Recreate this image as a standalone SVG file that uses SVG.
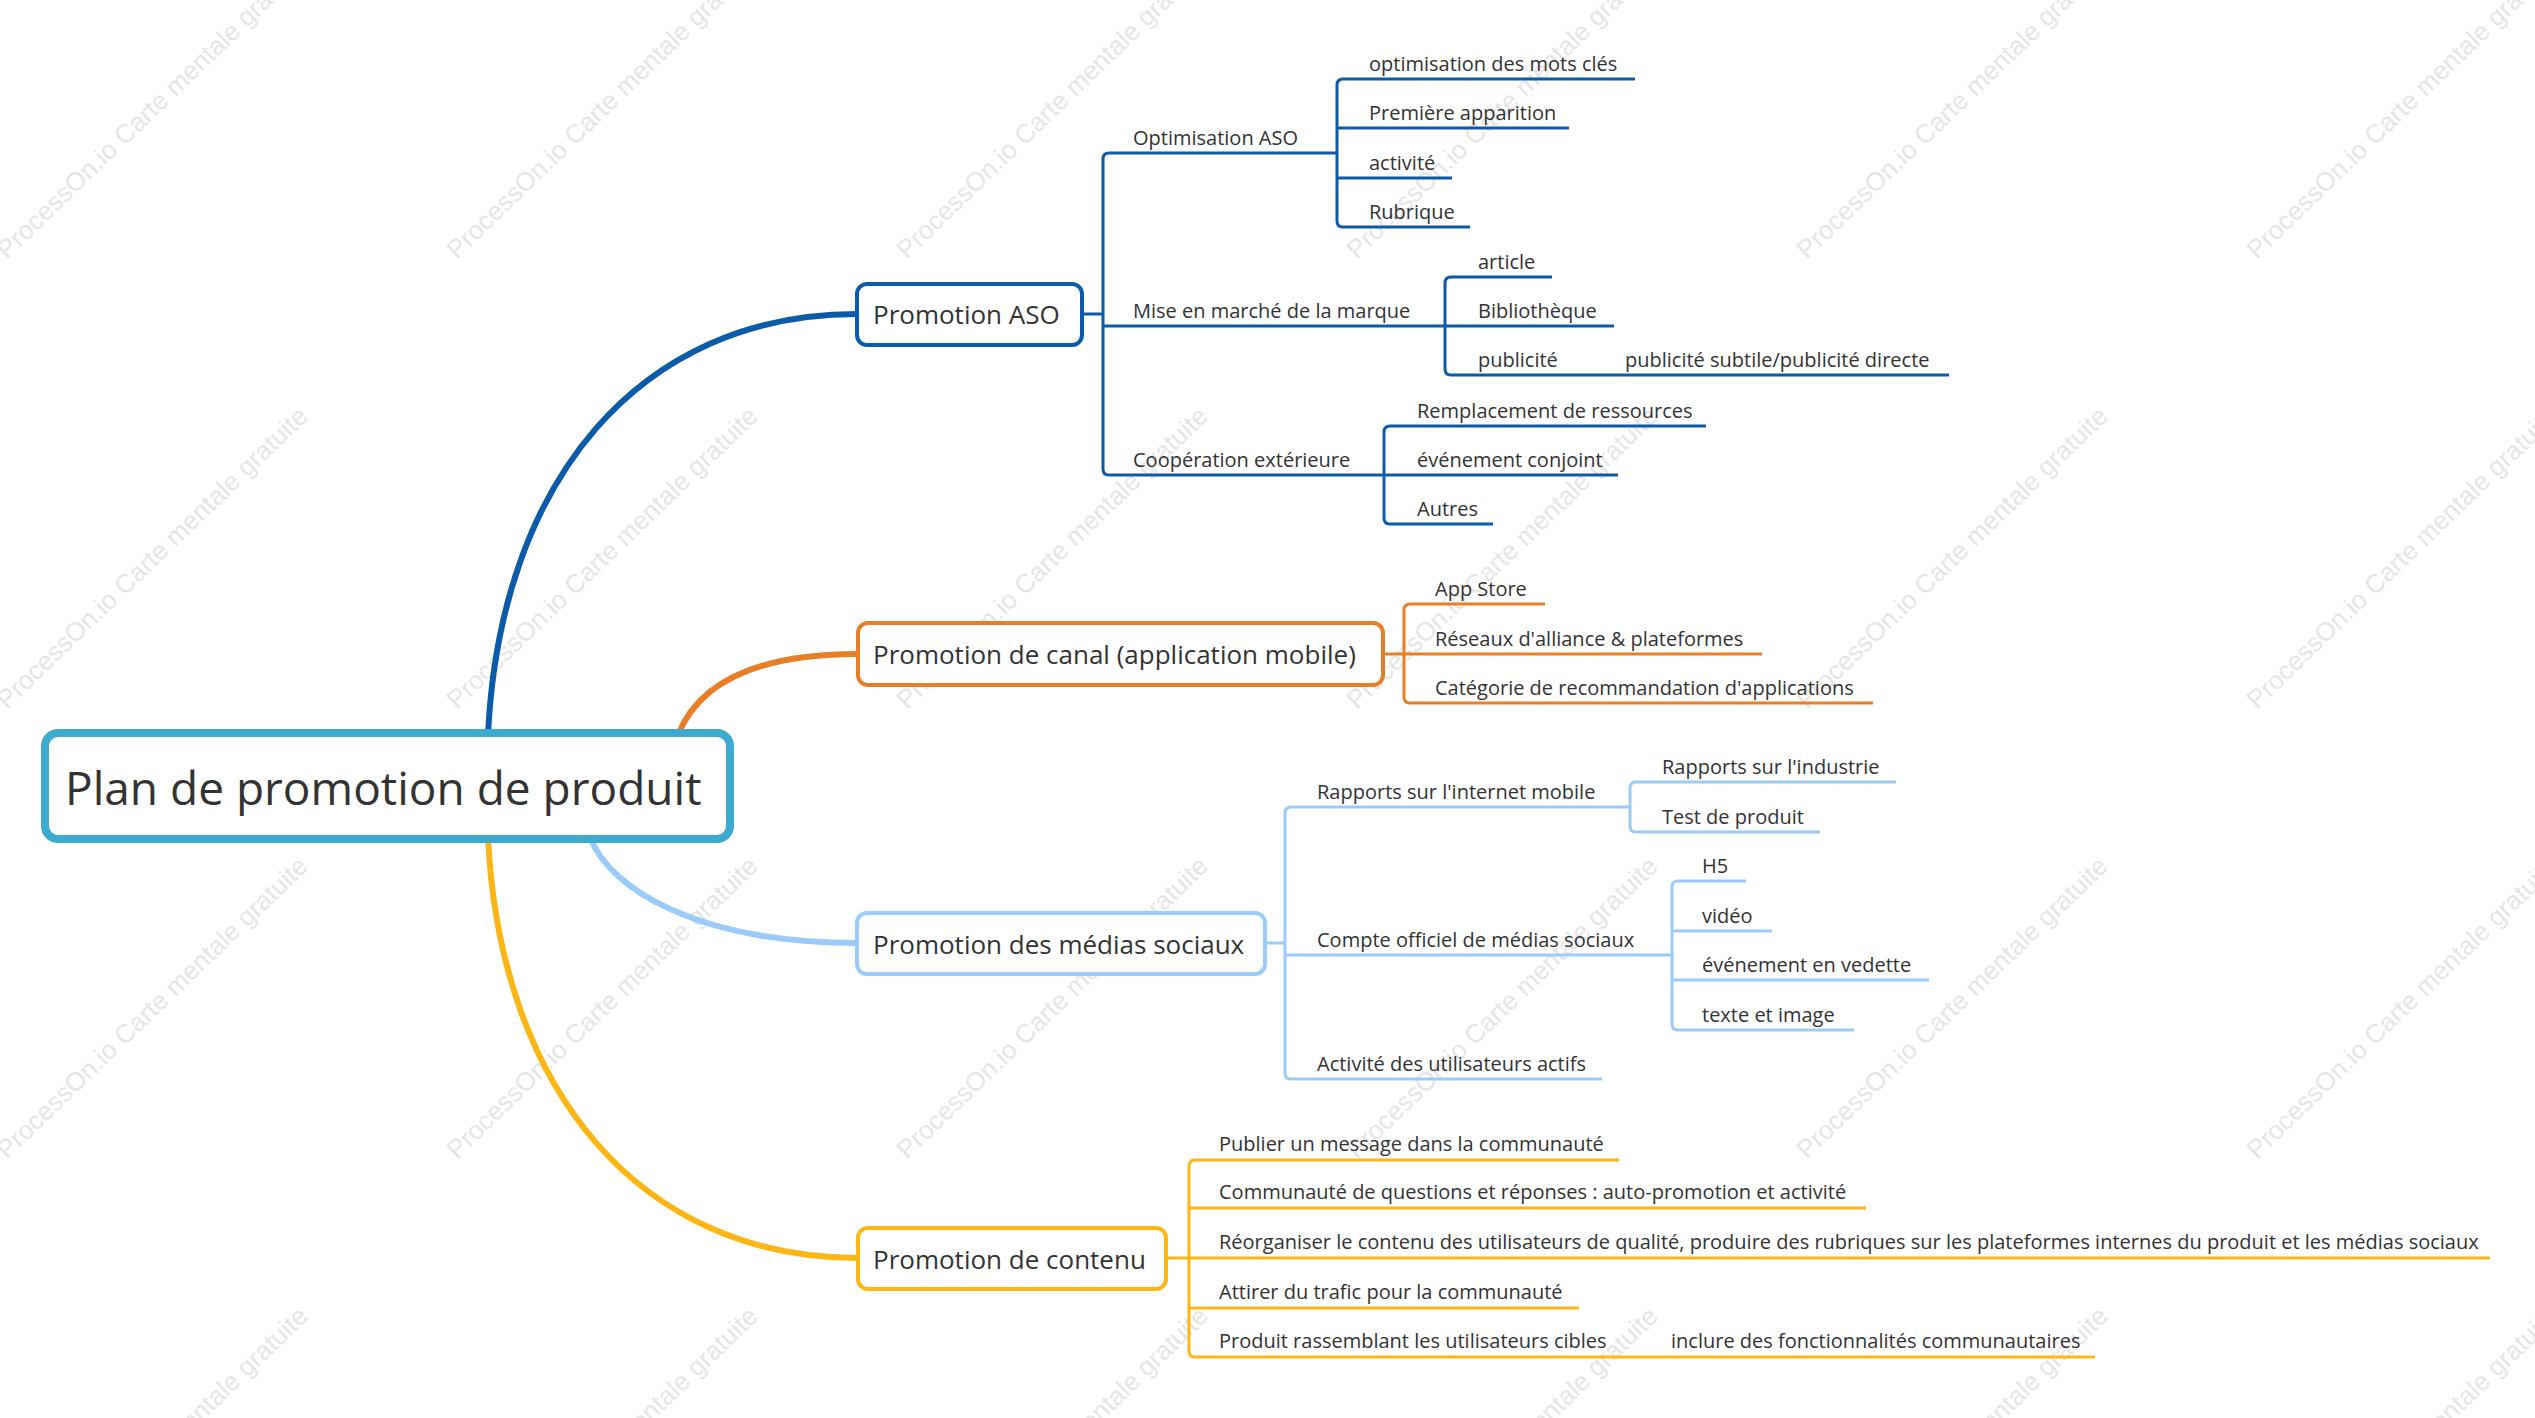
<svg xmlns="http://www.w3.org/2000/svg" width="2535" height="1418" viewBox="0 0 2535 1418">
<style>
.t{font-family:"Open Sans","Liberation Sans",sans-serif;fill:#333333}
.s2{font-size:20px}
.s1{font-size:26px}
.s0{font-size:46px}
.wm{font-family:"Liberation Sans",Arial,sans-serif;font-size:26px;fill:#e6e6e6}
.ln{fill:none;stroke-width:3}
.cv{fill:none;stroke-width:6}
.box{fill:#ffffff;stroke-width:4}
.c1{stroke:#0B5BAA}
.c2{stroke:#E87E26}
.c3{stroke:#9BCBFB}
.c4{stroke:#FDB614}
</style>
<rect width="2535" height="1418" fill="#ffffff"/>
<g id="watermark">
<text class="wm" x="7" y="260" transform="rotate(-44 7 260)">ProcessOn.io Carte mentale gratuite</text>
<text class="wm" x="457" y="260" transform="rotate(-44 457 260)">ProcessOn.io Carte mentale gratuite</text>
<text class="wm" x="907" y="260" transform="rotate(-44 907 260)">ProcessOn.io Carte mentale gratuite</text>
<text class="wm" x="1357" y="260" transform="rotate(-44 1357 260)">ProcessOn.io Carte mentale gratuite</text>
<text class="wm" x="1807" y="260" transform="rotate(-44 1807 260)">ProcessOn.io Carte mentale gratuite</text>
<text class="wm" x="2257" y="260" transform="rotate(-44 2257 260)">ProcessOn.io Carte mentale gratuite</text>
<text class="wm" x="7" y="710" transform="rotate(-44 7 710)">ProcessOn.io Carte mentale gratuite</text>
<text class="wm" x="457" y="710" transform="rotate(-44 457 710)">ProcessOn.io Carte mentale gratuite</text>
<text class="wm" x="907" y="710" transform="rotate(-44 907 710)">ProcessOn.io Carte mentale gratuite</text>
<text class="wm" x="1357" y="710" transform="rotate(-44 1357 710)">ProcessOn.io Carte mentale gratuite</text>
<text class="wm" x="1807" y="710" transform="rotate(-44 1807 710)">ProcessOn.io Carte mentale gratuite</text>
<text class="wm" x="2257" y="710" transform="rotate(-44 2257 710)">ProcessOn.io Carte mentale gratuite</text>
<text class="wm" x="7" y="1160" transform="rotate(-44 7 1160)">ProcessOn.io Carte mentale gratuite</text>
<text class="wm" x="457" y="1160" transform="rotate(-44 457 1160)">ProcessOn.io Carte mentale gratuite</text>
<text class="wm" x="907" y="1160" transform="rotate(-44 907 1160)">ProcessOn.io Carte mentale gratuite</text>
<text class="wm" x="1357" y="1160" transform="rotate(-44 1357 1160)">ProcessOn.io Carte mentale gratuite</text>
<text class="wm" x="1807" y="1160" transform="rotate(-44 1807 1160)">ProcessOn.io Carte mentale gratuite</text>
<text class="wm" x="2257" y="1160" transform="rotate(-44 2257 1160)">ProcessOn.io Carte mentale gratuite</text>
<text class="wm" x="7" y="1610" transform="rotate(-44 7 1610)">ProcessOn.io Carte mentale gratuite</text>
<text class="wm" x="457" y="1610" transform="rotate(-44 457 1610)">ProcessOn.io Carte mentale gratuite</text>
<text class="wm" x="907" y="1610" transform="rotate(-44 907 1610)">ProcessOn.io Carte mentale gratuite</text>
<text class="wm" x="1357" y="1610" transform="rotate(-44 1357 1610)">ProcessOn.io Carte mentale gratuite</text>
<text class="wm" x="1807" y="1610" transform="rotate(-44 1807 1610)">ProcessOn.io Carte mentale gratuite</text>
<text class="wm" x="2257" y="1610" transform="rotate(-44 2257 1610)">ProcessOn.io Carte mentale gratuite</text>
</g>
<g id="connectors">
<path class="cv c1" d="M488,735 C500,480 640,314 857,314"/>
<path class="cv c2" d="M678,735 C700,680 760,654 858,654"/>
<path class="cv c3" d="M590,837 C610,890 700,943 857,943"/>
<path class="cv c4" d="M488,837 C500,1090 640,1258 858,1258"/>
<path class="ln c1" d="M1082,314 L1103,314"/>
<path class="ln c1" d="M1109,153 Q1103,153 1103,159 L1103,469 Q1103,475 1109,475"/>
<path class="ln c1" d="M1343,79 Q1337,79 1337,85 L1337,221 Q1337,227 1343,227"/>
<path class="ln c1" d="M1451,277 Q1445,277 1445,283 L1445,369 Q1445,375 1451,375"/>
<path class="ln c1" d="M1390,426 Q1384,426 1384,432 L1384,518 Q1384,524 1390,524"/>
<path class="ln c2" d="M1383,654 L1404,654"/>
<path class="ln c2" d="M1410,604 Q1404,604 1404,610 L1404,697 Q1404,703 1410,703"/>
<path class="ln c3" d="M1265,943 L1285,943"/>
<path class="ln c3" d="M1291,807 Q1285,807 1285,813 L1285,1073 Q1285,1079 1291,1079"/>
<path class="ln c3" d="M1636,782 Q1630,782 1630,788 L1630,826 Q1630,832 1636,832"/>
<path class="ln c3" d="M1678,881 Q1672,881 1672,887 L1672,1024 Q1672,1030 1678,1030"/>
<path class="ln c4" d="M1166,1258 L1189,1258"/>
<path class="ln c4" d="M1195,1160 Q1189,1160 1189,1166 L1189,1351 Q1189,1357 1195,1357"/>
</g>
<g id="root">
<rect x="45" y="733" width="685" height="106" rx="13" fill="#ffffff" stroke="#3DAAD0" stroke-width="8"/>
<text class="t s0" x="65" y="805">Plan de promotion de produit</text>
</g>
<g id="n-aso">
<rect class="box c1" x="857" y="284" width="225" height="61" rx="10"/>
<text class="t s1" x="873" y="324">Promotion ASO</text>
</g>
<g id="n-aso-opt"><path class="ln c1" d="M1109,153 L1337,153"/><text class="t s2" x="1133" y="145">Optimisation ASO</text></g>
<g id="n-aso-opt-1"><path class="ln c1" d="M1343,79 L1635,79"/><text class="t s2" x="1369" y="71">optimisation des mots clés</text></g>
<g id="n-aso-opt-2"><path class="ln c1" d="M1337,128 L1569,128"/><text class="t s2" x="1369" y="120">Première apparition</text></g>
<g id="n-aso-opt-3"><path class="ln c1" d="M1337,178 L1452,178"/><text class="t s2" x="1369" y="170">activité</text></g>
<g id="n-aso-opt-4"><path class="ln c1" d="M1343,227 L1470,227"/><text class="t s2" x="1369" y="219">Rubrique</text></g>
<g id="n-aso-brand"><path class="ln c1" d="M1103,326 L1445,326"/><text class="t s2" x="1133" y="318">Mise en marché de la marque</text></g>
<g id="n-aso-brand-1"><path class="ln c1" d="M1451,277 L1552,277"/><text class="t s2" x="1478" y="269">article</text></g>
<g id="n-aso-brand-2"><path class="ln c1" d="M1445,326 L1614,326"/><text class="t s2" x="1478" y="318">Bibliothèque</text></g>
<g id="n-aso-brand-3"><path class="ln c1" d="M1451,375 L1575,375"/><text class="t s2" x="1478" y="367">publicité</text></g>
<g id="n-aso-brand-3-1"><path class="ln c1" d="M1575,375 L1949,375"/><text class="t s2" x="1625" y="367">publicité subtile/publicité directe</text></g>
<g id="n-aso-coop"><path class="ln c1" d="M1109,475 L1384,475"/><text class="t s2" x="1133" y="467">Coopération extérieure</text></g>
<g id="n-aso-coop-1"><path class="ln c1" d="M1390,426 L1706,426"/><text class="t s2" x="1417" y="418">Remplacement de ressources</text></g>
<g id="n-aso-coop-2"><path class="ln c1" d="M1384,475 L1618,475"/><text class="t s2" x="1417" y="467">événement conjoint</text></g>
<g id="n-aso-coop-3"><path class="ln c1" d="M1390,524 L1493,524"/><text class="t s2" x="1417" y="516">Autres</text></g>
<g id="n-canal">
<rect class="box c2" x="858" y="623" width="525" height="62" rx="10"/>
<text class="t s1" x="873" y="664">Promotion de canal (application mobile)</text>
</g>
<g id="n-canal-1"><path class="ln c2" d="M1410,604 L1545,604"/><text class="t s2" x="1435" y="596">App Store</text></g>
<g id="n-canal-2"><path class="ln c2" d="M1404,654 L1762,654"/><text class="t s2" x="1435" y="646">Réseaux d'alliance &amp; plateformes</text></g>
<g id="n-canal-3"><path class="ln c2" d="M1410,703 L1873,703"/><text class="t s2" x="1435" y="695">Catégorie de recommandation d'applications</text></g>
<g id="n-media">
<rect class="box c3" x="857" y="913" width="408" height="61" rx="10"/>
<text class="t s1" x="873" y="954">Promotion des médias sociaux</text>
</g>
<g id="n-media-1"><path class="ln c3" d="M1291,807 L1630,807"/><text class="t s2" x="1317" y="799">Rapports sur l'internet mobile</text></g>
<g id="n-media-1-1"><path class="ln c3" d="M1636,782 L1896,782"/><text class="t s2" x="1662" y="774">Rapports sur l'industrie</text></g>
<g id="n-media-1-2"><path class="ln c3" d="M1636,832 L1820,832"/><text class="t s2" x="1662" y="824">Test de produit</text></g>
<g id="n-media-2"><path class="ln c3" d="M1285,955 L1672,955"/><text class="t s2" x="1317" y="947">Compte officiel de médias sociaux</text></g>
<g id="n-media-2-1"><path class="ln c3" d="M1678,881 L1746,881"/><text class="t s2" x="1702" y="873">H5</text></g>
<g id="n-media-2-2"><path class="ln c3" d="M1672,931 L1772,931"/><text class="t s2" x="1702" y="923">vidéo</text></g>
<g id="n-media-2-3"><path class="ln c3" d="M1672,980 L1929,980"/><text class="t s2" x="1702" y="972">événement en vedette</text></g>
<g id="n-media-2-4"><path class="ln c3" d="M1678,1030 L1854,1030"/><text class="t s2" x="1702" y="1022">texte et image</text></g>
<g id="n-media-3"><path class="ln c3" d="M1291,1079 L1602,1079"/><text class="t s2" x="1317" y="1071">Activité des utilisateurs actifs</text></g>
<g id="n-content">
<rect class="box c4" x="858" y="1228" width="308" height="61" rx="10"/>
<text class="t s1" x="873" y="1269">Promotion de contenu</text>
</g>
<g id="n-content-1"><path class="ln c4" d="M1195,1160 L1619,1160"/><text class="t s2" x="1219" y="1151">Publier un message dans la communauté</text></g>
<g id="n-content-2"><path class="ln c4" d="M1189,1208 L1866,1208"/><text class="t s2" x="1219" y="1199">Communauté de questions et réponses : auto-promotion et activité</text></g>
<g id="n-content-3"><path class="ln c4" d="M1189,1258 L2490,1258"/><text class="t s2" x="1219" y="1249">Réorganiser le contenu des utilisateurs de qualité, produire des rubriques sur les plateformes internes du produit et les médias sociaux</text></g>
<g id="n-content-4"><path class="ln c4" d="M1189,1308 L1579,1308"/><text class="t s2" x="1219" y="1299">Attirer du trafic pour la communauté</text></g>
<g id="n-content-5"><path class="ln c4" d="M1195,1357 L1623,1357"/><text class="t s2" x="1219" y="1348">Produit rassemblant les utilisateurs cibles</text></g>
<g id="n-content-5-1"><path class="ln c4" d="M1623,1357 L2095,1357"/><text class="t s2" x="1671" y="1348">inclure des fonctionnalités communautaires</text></g>
</svg>
